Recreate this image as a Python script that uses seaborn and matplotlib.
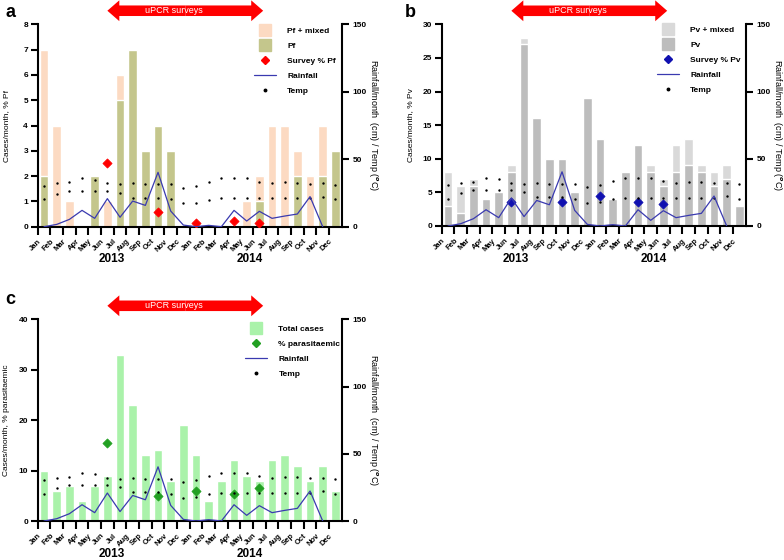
import numpy as np
import pandas as pd
import seaborn as sns
import matplotlib.pyplot as plt
from matplotlib.lines import Line2D

# meses de jan/2013 a dez/2014 (posição 0..23)
month_labels = ["Jan", "Feb", "Mar", "Apr", "May", "Jun",
                "Jul", "Aug", "Sep", "Oct", "Nov", "Dec"] * 2
month_idx = list(range(24))

# casos por mês
pf_mixed = [7, 4, 1, 0, 2, 1, 6, 7, 3, 4, 3, 0, 0, 0, 0, 0, 1, 2, 4, 4, 3, 2, 4, 3]
pf_only = [2, 0, 0, 0, 2, 0, 5, 7, 3, 4, 3, 0, 0, 0, 0, 0, 0, 1, 0, 0, 2, 0, 2, 3]
pv_mixed = [8, 6, 7, 4, 5, 9, 28, 16, 10, 10, 5, 19, 13, 4, 8, 12, 9, 7, 12, 13, 9, 8, 9, 3]
pv_only = [3, 2, 6, 4, 5, 8, 27, 16, 10, 10, 5, 19, 13, 4, 8, 12, 8, 6, 8, 9, 8, 6, 7, 3]
total_cases = [10, 6, 7, 4, 7, 9, 33, 23, 13, 14, 8, 19, 13, 4, 8, 12, 9, 8, 12, 13, 11, 8, 11, 6]

# chuva (cm) e temperaturas máx/mín (°C)
rainfall = [0, 1.7, 5.4, 12.1, 6.2, 20.8, 7, 19, 15.8, 40.3, 11.6, 1.2,
            0, 1, 0, 12.1, 4.2, 11.4, 6.2, 7.9, 9.4, 22.3, 0, np.nan]
temp_max = [30.2, 32.2, 32.9, 35.9, 34.6, 32.2, 31.4, 32.2, 31.4, 31.4, 31.4, 28.9,
            30.2, 33.4, 35.9, 35.9, 35.9, 33.4, 32.2, 32.9, 32.6, 31.7, 32.2, 30.9]
temp_min = [20.3, 24.2, 26.7, 26.7, 26.5, 26.5, 25.2, 21.5, 21.5, 21.5, 20.3, 17.3,
            17.8, 19.8, 21, 21, 21, 21, 21, 21, 21, 21, 22.3, 20.3]

# inquéritos uPCR
survey_idx = [5, 9, 12, 15, 17]
survey_pf = [2.5, 0.57, 0.16, 0.24, 0.16]
survey_pv = [3.5, 3.5, 4.4, 3.5, 3.3]
survey_all = [15.5, 5.0, 6.0, 5.3, 6.5]
survey_span = (5.0, 17.3)

df = pd.DataFrame({
    "mes": month_idx, "pf_mixed": pf_mixed, "pf": pf_only,
    "pv_mixed": pv_mixed, "pv": pv_only, "total": total_cases,
    "chuva": rainfall, "tmax": temp_max, "tmin": temp_min,
})

sns.set_style("ticks", {"axes.edgecolor": "black", "xtick.color": "black",
                        "ytick.color": "black", "text.color": "black",
                        "axes.labelcolor": "black"})
plt.rcParams["font.family"] = ["Liberation Sans", "DejaVu Sans"]
plt.rcParams["font.weight"] = "bold"

RAIN_COLOR = "#3a3ab0"
W, H = 784, 560
fig = plt.figure(figsize=(W / 100, H / 100), dpi=100)


def eixo_px(left, top, right, bottom):
    return fig.add_axes([left / W, 1 - bottom / H, (right - left) / W, (bottom - top) / H])


def painel(ax, bar_cols, bar_colors, survey, survey_color, ymax, ystep,
           ylabel, labels, leg_anchor):
    for col, color in zip(bar_cols, bar_colors):
        sns.barplot(data=df, x="mes", y=col, color=color, width=0.7, native_scale=True,
                    errorbar=None, saturation=1, ax=ax)
    sns.scatterplot(x=survey_idx, y=survey, marker="D", color=survey_color, s=22,
                    edgecolor=survey_color, linewidth=0.5, zorder=5, ax=ax)

    ax2 = ax.twinx()
    sns.lineplot(data=df, x="mes", y="chuva", color=RAIN_COLOR, linewidth=0.9, ax=ax2)
    sns.scatterplot(data=df, x="mes", y="tmax", color="black", s=3, linewidth=0, ax=ax2)
    sns.scatterplot(data=df, x="mes", y="tmin", color="black", s=3, linewidth=0, ax=ax2)

    ax.set_xlim(-0.5, 23.5)
    ax.set_ylim(0, ymax)
    ax2.set_ylim(0, 150)
    ax.set_yticks(np.arange(0, ymax + 0.1, ystep))
    ax2.set_yticks([0, 50, 100, 150])
    ax.set_xticks(np.arange(24) - 0.5)
    ax.set_xticklabels(month_labels, rotation=45, ha="right", rotation_mode="anchor")
    ax.tick_params(axis="both", width=1.5, length=5, labelsize=6, pad=2)
    ax.tick_params(axis="x", length=6, labelsize=5.5)
    ax2.tick_params(axis="y", width=1.5, length=5, labelsize=6, pad=3)

    ax.spines[["top", "right"]].set_visible(False)
    ax2.spines[["top", "left", "bottom"]].set_visible(False)
    for sp in ("left", "bottom"):
        ax.spines[sp].set_linewidth(1.5)
    ax2.spines["right"].set_linewidth(1.5)

    ax.set_xlabel("")
    ax.set_ylabel(ylabel, fontsize=6, fontweight="normal", va="center")
    ax.yaxis.set_label_coords(-0.104, 0.5)
    ax2.set_ylabel("Rainfall/month  (cm) / Temp ($^o$C)", fontsize=6.5, fontweight="normal",
                   rotation=270, va="center", ha="center")
    ax2.yaxis.set_label_coords(1.103, 0.5)

    ax.text(0.244, -0.162, "2013", transform=ax.transAxes, ha="center", va="center",
            fontsize=8.5, fontweight="bold")
    ax.text(0.698, -0.162, "2014", transform=ax.transAxes, ha="center", va="center",
            fontsize=8.5, fontweight="bold")

    # legenda
    handles = [Line2D([], [], marker="s", markersize=8, color=c, linestyle="None")
               for c in bar_colors]
    handles.append(Line2D([], [], marker="D", markersize=4.5, color=survey_color, linestyle="None"))
    handles.append(Line2D([], [], color=RAIN_COLOR, linewidth=0.9))
    handles.append(Line2D([], [], marker="o", markersize=1.8, color="black", linestyle="None"))
    ax2.legend(handles=handles, labels=labels, loc="upper left", bbox_to_anchor=leg_anchor,
               frameon=False, fontsize=6, handlelength=2.6, handletextpad=1.4,
               labelspacing=0.85, borderpad=0, borderaxespad=0, numpoints=1)

    # seta dos inquéritos uPCR
    tr = ax.get_xaxis_transform()
    mid = (survey_span[0] + survey_span[1]) / 2
    for end in survey_span:
        ax.annotate("", xy=(end, 1.067), xytext=(mid, 1.067), xycoords=tr, textcoords=tr,
                    annotation_clip=False,
                    arrowprops=dict(arrowstyle="simple,head_length=8.6,head_width=15,tail_width=7.6",
                                    mutation_scale=1, color="#ff0000", shrinkA=0, shrinkB=0,
                                    linewidth=0))
    ax.text(10.25, 1.067, "uPCR surveys", transform=tr, ha="center", va="center",
            color="white", fontsize=6.5, fontweight="normal")
    return ax2


ax_a = eixo_px(37.7, 24.3, 341.7, 226.7)
painel(ax_a, ["pf_mixed", "pf"], ["#fcdac2", "#c4c68c"], survey_pf, "#ff0000", 8, 1,
       "Cases/month, % Pf", ["Pf + mixed", "Pf", "Survey % Pf", "Rainfall", "Temp"],
       (0.711, 0.985))

ax_b = eixo_px(441.7, 24.3, 745.7, 226.0)
painel(ax_b, ["pv_mixed", "pv"], ["#d9d9d9", "#bdbdbd"], survey_pv, "#1010b0", 30, 5,
       "Cases/month, % Pv", ["Pv + mixed", "Pv", "Survey % Pv", "Rainfall", "Temp"],
       (0.708, 0.99))

ax_c = eixo_px(37.7, 319.3, 341.7, 521.0)
painel(ax_c, ["total"], ["#aaf2aa"], survey_all, "#22a022", 40, 10,
       "Cases/month, % parasitaemic", ["Total cases", "% parasitaemic", "Rainfall", "Temp"],
       (0.682, 0.972))

fig.text(5 / W, 1 - 17 / H, "a", fontsize=13, fontweight="bold", va="baseline")
fig.text(405 / W, 1 - 17 / H, "b", fontsize=13, fontweight="bold", va="baseline")
fig.text(5 / W, 1 - 304 / H, "c", fontsize=13, fontweight="bold", va="baseline")

plt.savefig("out.png", dpi=100)
